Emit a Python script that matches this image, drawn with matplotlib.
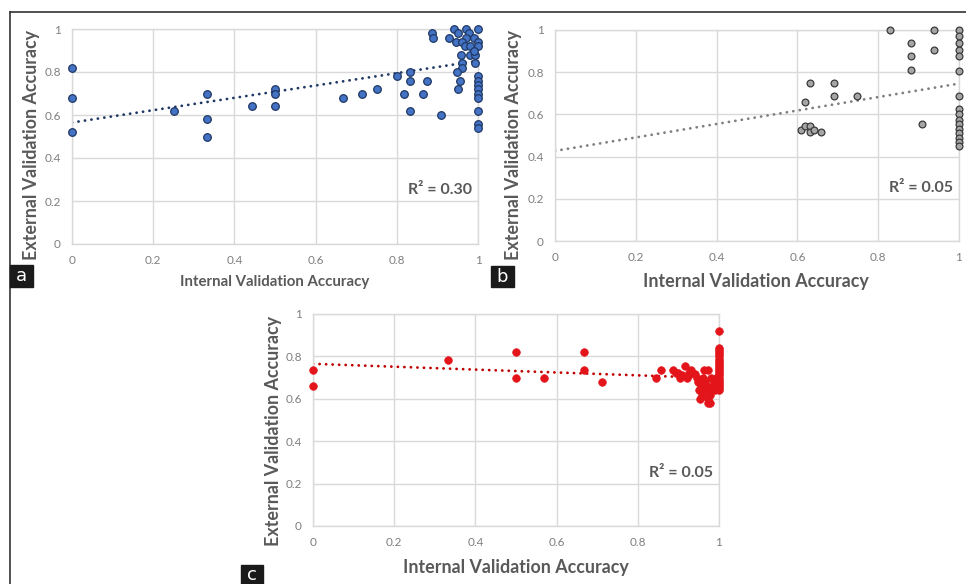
import matplotlib
matplotlib.use("Agg")
import matplotlib.pyplot as plt
from matplotlib.lines import Line2D
from matplotlib.patches import Rectangle

# ---------------- data ----------------
a_x = [0, 0, 0, 0.25, 0.333, 0.333, 0.333, 0.444, 0.5, 0.5, 0.5, 0.667, 0.714, 0.75,
       0.8, 0.818, 0.833, 0.833, 0.833, 0.864, 0.875, 0.909, 0.887, 0.888, 0.929, 0.94,
       0.95, 0.947, 0.97, 0.977, 0.97, 0.96, 0.968, 0.98, 0.99, 1.0, 1.0, 1.0, 0.957,
       0.98, 0.993, 0.99, 0.96, 0.96, 0.993, 0.949, 0.956, 0.951,
       1, 1, 1, 1, 1, 1, 1, 1, 1]
a_y = [0.82, 0.68, 0.52, 0.62, 0.70, 0.58, 0.50, 0.64, 0.72, 0.70, 0.64, 0.68, 0.70, 0.72,
       0.78, 0.70, 0.80, 0.76, 0.62, 0.70, 0.76, 0.60, 0.98, 0.96, 0.96, 1.0,
       0.98, 0.94, 1.0, 0.98, 0.96, 0.94, 0.92, 0.92, 0.96, 1.0, 0.94, 0.92, 0.88,
       0.88, 0.88, 0.90, 0.84, 0.82, 0.84, 0.80, 0.76, 0.72,
       0.78, 0.76, 0.74, 0.72, 0.70, 0.68, 0.62, 0.56, 0.54]
a_trend = [0.565, 0.852]
a_r2 = "R² = 0.30"

b_x = [0.83, 0.939, 0.881, 0.881, 0.881, 0.939, 0.909, 0.63, 0.62, 0.69, 0.69, 0.748,
       0.609, 0.62, 0.63, 0.63, 0.64, 0.659,
       1, 1, 1, 1, 1, 1, 1, 1, 1, 1, 1, 1, 1, 1, 1, 1]
b_y = [1.0, 1.0, 0.937, 0.878, 0.81, 0.907, 0.556, 0.747, 0.659, 0.747, 0.687, 0.687,
       0.528, 0.545, 0.545, 0.517, 0.528, 0.517,
       1.0, 0.972, 0.937, 0.907, 0.878, 0.808, 0.687, 0.627, 0.604, 0.575, 0.553,
       0.533, 0.513, 0.49, 0.47, 0.449]
b_trend = [0.427, 0.746]
b_r2 = "R² = 0.05"

c_x = [0, 0, 0.333, 0.5, 0.5, 0.57, 0.667, 0.667, 0.713, 0.844, 0.857,
       0.887, 0.893, 0.90, 0.905, 0.91, 0.916, 0.92, 0.925, 0.93, 0.94, 0.945, 0.948,
       0.95, 0.955, 0.957, 0.953, 0.96, 0.963, 0.965, 0.968, 0.97, 0.972, 0.974, 0.978,
       0.974, 0.978, 0.98, 0.982, 0.985, 0.988, 0.99, 0.992, 0.995,
       1, 1, 1, 1, 1, 1, 1, 1, 1, 1, 1, 1, 1, 1, 1, 1, 1, 1, 1, 1, 1, 1]
c_y = [0.737, 0.66, 0.781, 0.82, 0.70, 0.70, 0.82, 0.737, 0.679, 0.70, 0.737,
       0.737, 0.72, 0.72, 0.70, 0.71, 0.757, 0.70, 0.72, 0.737, 0.718, 0.70, 0.68,
       0.64, 0.66, 0.62, 0.60, 0.70, 0.737, 0.68, 0.64, 0.66, 0.60, 0.58, 0.58,
       0.737, 0.62, 0.70, 0.64, 0.66, 0.68, 0.64, 0.70, 0.66,
       0.92, 0.84, 0.83, 0.82, 0.81, 0.80, 0.79, 0.78, 0.77, 0.76, 0.75, 0.74,
       0.73, 0.72, 0.71, 0.70, 0.69, 0.68, 0.67, 0.66, 0.65, 0.64]
c_trend = [0.765, 0.697]
c_r2 = "R² = 0.05"

ticks = [0, 0.2, 0.4, 0.6, 0.8, 1]
tick_labels = ["0", "0.2", "0.4", "0.6", "0.8", "1"]
xlabel = "Internal Validation Accuracy"
ylabel = "External Validation Accuracy"

# ---------------- figure ----------------
W, H = 966, 584
fig = plt.figure(figsize=(W / 100, H / 100), dpi=100)
FONT = ["Lato", "DejaVu Sans"]
LBL = "#595959"
TICK = "#7f7f7f"
GRID = "#d9d9d9"


def px_rect(l, t, r, b):
    return [l / W, 1 - b / H, (r - l) / W, (b - t) / H]


def panel(rect, xs, ys, trend, r2, fc, ec, ms, lw_edge, tcol):
    ax = fig.add_axes(rect)
    ax.set_xlim(0, 1)
    ax.set_ylim(0, 1)
    ax.set_xticks(ticks)
    ax.set_yticks(ticks)
    ax.set_xticklabels(tick_labels, family=FONT, fontsize=8.5, color=TICK)
    ax.set_yticklabels(tick_labels, family=FONT, fontsize=8.5, color=TICK)
    ax.tick_params(length=0, pad=8)
    ax.grid(True, color=GRID, lw=1)
    ax.set_axisbelow(True)
    for s in ax.spines.values():
        s.set_color(GRID)
        s.set_linewidth(1)
    ax.plot([0, 1], trend, color=tcol, lw=2.0, ls=(0, (0.05, 2.3)),
            dash_capstyle="round", zorder=2)
    ax.scatter(xs, ys, s=ms, facecolor=fc, edgecolor=ec, linewidths=lw_edge,
               zorder=3, clip_on=False)
    ax.text(0.985, 0.25, r2, transform=ax.transData, ha="right", va="center",
            family=FONT, fontsize=11.5, fontweight="bold", color=LBL)
    return ax


def labels(cx_x, cy_x, cx_y, cy_y, size_x, size_y):
    fig.text(cx_x / W, 1 - cy_x / H, xlabel, ha="center", va="center",
             family=FONT, fontsize=size_x, fontweight="bold", color=LBL)
    fig.text(cx_y / W, 1 - cy_y / H, ylabel, ha="center", va="center", rotation=90,
             family=FONT, fontsize=size_y, fontweight="bold", color=LBL)


def tag(l, t, r, b, letter):
    fig.add_artist(Rectangle((l / W, 1 - b / H), (r - l) / W, (b - t) / H,
                             transform=fig.transFigure, color="#1a1a1a", zorder=5))
    fig.text((l + r) / 2 / W, 1 - (t + b) / 2 / H, letter, ha="center", va="center",
             family=["DejaVu Sans"], fontsize=13, color="white", zorder=6)


# panel a
panel(px_rect(72, 29, 478, 244), a_x, a_y, a_trend, a_r2,
      "#4472C4", "#1F3864", 30, 0.9, "#1F3864")
labels(274.5, 282, 31, 145.5, 10.8, 12.9)
tag(10, 265, 33, 287, "a")

# panel b
panel(px_rect(555, 30, 959, 241), b_x, b_y, b_trend, b_r2,
      "#A5A5A5", "#3a3a3a", 24, 0.9, "#7f7f7f")
labels(755.5, 282, 513, 145.5, 12.9, 12.9)
tag(491, 266, 514, 287, "b")

# panel c
panel(px_rect(313, 314, 719, 526), c_x, c_y, c_trend, c_r2,
      "#E3151B", "#E3151B", 30, 0.5, "#C00000")
labels(515.5, 567, 273, 431, 12.9, 12.9)
tag(241, 565, 263, 584, "c")

# frame lines
fig.add_artist(Line2D([10 / W, 1], [1 - 12 / H, 1 - 12 / H], transform=fig.transFigure,
                      color="#333333", lw=1.2))
fig.add_artist(Line2D([10 / W, 10 / W], [0, 1 - 12 / H], transform=fig.transFigure,
                      color="#333333", lw=1.2))

fig.savefig("out.png", dpi=100, facecolor="white")
